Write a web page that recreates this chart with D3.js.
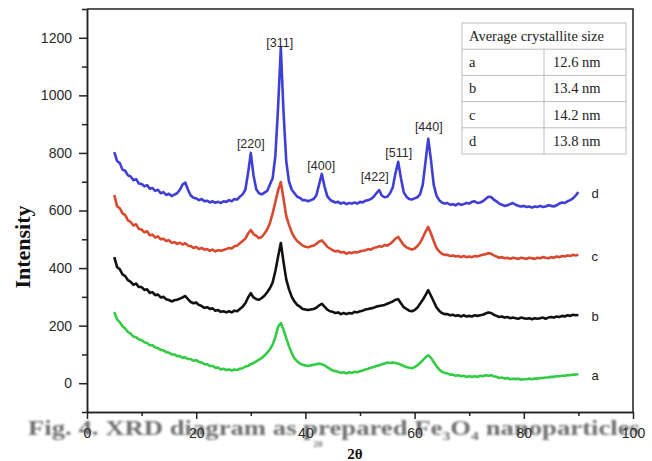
<!DOCTYPE html>
<html>
<head>
<meta charset="utf-8">
<script src="https://cdn.jsdelivr.net/npm/d3@7"></script>
<style>
  body { margin: 0; background: #fff; }
  svg { display: block; }
</style>
</head>
<body>
<svg id="graph1"></svg>
<script>
// 2theta grid: 5 .. 90 deg, 0.5 deg step
var thetaStart = 5, thetaEnd = 90, thetaStep = 0.5;

var seriesNames = ["a", "b", "c", "d"];
var seriesColors = ["#33cc44", "#111111", "#d9492f", "#3f3fd6"];

var intensityA = [247,222,212,198,190,178,172,162,160,152,150,142,140,132,132,124,122,116,114,108,
  106,100,100,94,94,88,90,84,84,78,80,74,72,66,66,60,60,54,54,48,
  50,46,48,44,48,46,50,52,58,60,66,70,76,82,88,96,106,118,134,160,
  196,209,186,156,128,104,86,76,68,64,62,60,62,64,66,68,66,62,56,50,
  44,42,40,36,38,34,38,36,40,38,42,44,48,50,54,56,60,62,66,68,
  72,70,72,70,68,64,60,56,54,52,56,62,70,80,90,97,88,74,60,48,
  40,36,34,30,30,26,28,24,26,22,24,22,24,22,26,24,28,26,28,24,
  22,18,20,16,18,14,16,14,16,12,14,14,16,14,16,16,18,18,20,20,
  22,22,24,24,26,26,28,28,30,30,31];

var intensityB = [438,404,396,378,372,358,352,342,346,334,334,324,326,314,316,306,308,298,300,292,
  289,284,288,290,294,298,303,292,282,278,280,272,268,262,264,258,260,252,254,248,
  250,246,250,246,252,250,258,266,278,298,313,298,292,290,296,304,316,330,350,390,
  440,487,420,360,326,300,284,272,266,258,256,254,256,258,262,270,276,266,256,250,
  248,244,246,240,244,240,244,242,248,246,250,252,256,258,260,262,266,268,270,272,
  276,280,284,290,292,278,264,258,252,250,254,262,276,290,306,323,304,284,264,252,
  244,240,240,236,238,234,236,232,236,232,234,232,236,234,236,238,242,246,244,238,
  234,230,232,228,230,226,228,226,224,228,226,224,226,222,226,224,226,228,224,228,
  230,228,232,230,234,232,236,234,238,236,237];

var intensityC = [654,615,608,590,584,566,560,548,552,536,534,524,528,514,516,506,510,500,502,494,
  497,488,490,484,488,482,486,478,476,470,473,466,470,464,466,460,464,458,462,460,
  463,466,470,468,476,478,486,494,502,520,532,518,512,504,508,520,534,556,590,630,
  670,699,640,580,550,524,506,494,486,478,474,472,476,478,484,492,496,486,474,468,
  462,458,460,454,456,450,454,452,456,454,458,460,462,466,464,470,472,476,474,480,
  478,484,492,502,508,494,480,472,468,464,468,476,488,506,526,543,520,494,470,458,
  450,446,446,442,444,440,442,438,442,438,440,438,442,440,444,446,448,452,450,444,
  440,436,438,434,436,432,436,434,432,436,434,432,436,434,432,436,434,438,436,434,
  438,436,440,438,442,440,444,442,446,444,446];

var intensityD = [803,772,765,742,738,722,718,705,709,694,692,684,688,676,678,668,672,660,664,654,
  658,650,655,660,672,690,697,672,652,644,642,636,640,632,634,628,632,627,630,626,
  632,630,636,632,640,638,648,656,672,730,800,722,674,660,656,662,668,690,712,790,
  960,1165,940,770,700,672,660,648,644,636,636,632,636,640,652,690,727,684,650,638,
  632,628,630,624,628,622,626,624,628,624,630,628,634,636,640,648,660,671,652,646,
  648,660,680,730,769,712,664,648,640,638,642,646,656,690,770,849,775,690,652,636,
  628,624,626,620,622,618,624,620,622,626,624,630,632,626,628,632,640,648,647,638,
  632,624,620,616,618,622,626,620,616,614,616,612,614,610,614,612,616,612,614,618,
  616,614,618,624,628,626,632,636,642,652,664];

var seriesValues = [intensityA, intensityB, intensityC, intensityD];

// Miller indices marked on curve d
var peakHkl = ["[220]", "[311]", "[400]", "[422]", "[511]", "[440]"];
var peakTheta = [30.0, 35.3, 42.9, 52.7, 57.1, 62.6];
var peakLabelIntensity = [816, 1167, 741, 703, 786, 875];

var tableHeader = "Average crystallite size";
var tableSizes = ["12.6 nm", "13.4 nm", "14.2 nm", "13.8 nm"];

var xTicks = [0, 20, 40, 60, 80, 100];
var xMinor = [10, 30, 50, 70, 90];
var yTicks = [0, 200, 400, 600, 800, 1000, 1200];
var yMinor = [-100, 100, 300, 500, 700, 900, 1100, 1300];

var width = 652, height = 461;
var margins = { top: 9, bottom: 49, left: 87, right: 19 };

var svg = d3.select("#graph1")
  .attr("width", width)
  .attr("height", height);

var xScale = d3.scaleLinear()
  .domain([0, 100])
  .range([margins.left, width - margins.right]);

var yScale = d3.scaleLinear()
  .domain([-100, 1300])
  .range([height - margins.bottom, margins.top]);

var thetas = d3.range(thetaStart, thetaEnd + thetaStep / 2, thetaStep);

var defs = svg.append("defs");
defs.append("filter").attr("id", "soft")
  .append("feGaussianBlur").attr("stdDeviation", 0.8);

// figure caption sitting behind the x tick labels
var caption = svg.append("text")
  .attr("x", 28)
  .attr("y", 435)
  .attr("textLength", 612)
  .attr("lengthAdjust", "spacingAndGlyphs")
  .attr("filter", "url(#soft)")
  .style("font-family", "'Liberation Serif', 'Times New Roman', serif")
  .style("font-weight", "bold")
  .style("font-size", "22px")
  .style("fill", "#6e6e6e");
caption.append("tspan").text("Fig. 4. XRD diagram as prepared Fe");
caption.append("tspan").attr("dy", 5).style("font-size", "13px").text("3");
caption.append("tspan").attr("dy", -5).text("O");
caption.append("tspan").attr("dy", 5).style("font-size", "13px").text("4");
caption.append("tspan").attr("dy", -5).text(" nanoparticles");

// frame top/right
svg.append("path")
  .attr("d", "M" + xScale(0) + "," + yScale(1300) + "H" + xScale(100) + "V" + yScale(-100))
  .attr("fill", "none")
  .attr("stroke", "#222")
  .attr("stroke-width", 1.5);

var xAxis = d3.axisBottom(xScale).tickValues(xTicks).tickSize(7).tickPadding(9).tickSizeOuter(0);
var xAxisMinor = d3.axisBottom(xScale).tickValues(xMinor).tickSize(4).tickFormat("").tickSizeOuter(0);
var yAxis = d3.axisLeft(yScale).tickValues(yTicks).tickSize(8).tickPadding(7)
  .tickFormat(d3.format("d")).tickSizeOuter(0);
var yAxisMinor = d3.axisLeft(yScale).tickValues(yMinor).tickSize(5).tickFormat("").tickSizeOuter(0);

var styleAxis = function(g)
{
  g.selectAll("path, line").attr("stroke", "#222").attr("stroke-width", 1.5);
  g.selectAll("text")
    .style("font-family", "'Liberation Sans', Arial, sans-serif")
    .style("font-size", "14px")
    .attr("fill", "#2a2a2a");
};

svg.append("g")
  .attr("transform", "translate(0," + yScale(-100) + ")")
  .call(xAxisMinor).call(styleAxis);
svg.append("g")
  .attr("transform", "translate(0," + yScale(-100) + ")")
  .call(xAxis).call(styleAxis);
svg.append("g")
  .attr("transform", "translate(" + xScale(0) + ",0)")
  .call(yAxisMinor).call(styleAxis);
svg.append("g")
  .attr("transform", "translate(" + xScale(0) + ",0)")
  .call(yAxis).call(styleAxis);

// axis titles
svg.append("text")
  .attr("transform", "translate(30,247) rotate(-90)")
  .attr("text-anchor", "middle")
  .style("font-family", "'Liberation Serif', 'Times New Roman', serif")
  .style("font-weight", "bold")
  .style("font-size", "22px")
  .style("fill", "#111")
  .text("Intensity");

svg.append("text")
  .attr("x", 318).attr("y", 447)
  .attr("text-anchor", "middle")
  .attr("filter", "url(#soft)")
  .style("font-family", "'Liberation Serif', serif")
  .style("font-weight", "bold")
  .style("font-size", "9px")
  .style("fill", "#777")
  .text("2θ");

svg.append("text")
  .attr("x", 355).attr("y", 459)
  .attr("text-anchor", "middle")
  .style("font-family", "'Liberation Serif', 'Times New Roman', serif")
  .style("font-weight", "bold")
  .style("font-size", "15px")
  .style("fill", "#111")
  .text("2θ");

// curves
var drawLine = d3.line()
  .x(function(d, i) { return xScale(thetas[i]); })
  .y(function(d) { return yScale(d); });

svg.selectAll(".curve")
  .data(seriesValues)
  .enter()
  .append("path")
  .attr("class", "curve")
  .attr("d", drawLine)
  .attr("fill", "none")
  .attr("stroke", function(d, i) { return seriesColors[i]; })
  .attr("stroke-width", 2.6)
  .attr("stroke-linejoin", "round");

// series letters at the right end
svg.selectAll(".serlab")
  .data(seriesValues)
  .enter()
  .append("text")
  .attr("class", "serlab")
  .attr("x", xScale(92.4))
  .attr("y", function(d) { return yScale(d[d.length - 1]) + 6; })
  .style("font-family", "'Liberation Sans', Arial, sans-serif")
  .style("font-size", "13px")
  .style("fill", "#222")
  .text(function(d, i) { return seriesNames[i]; });

// peak indices
svg.selectAll(".peak")
  .data(peakHkl)
  .enter()
  .append("text")
  .attr("class", "peak")
  .attr("x", function(d, i) { return xScale(peakTheta[i]); })
  .attr("y", function(d, i) { return yScale(peakLabelIntensity[i]); })
  .attr("text-anchor", "middle")
  .style("font-family", "'Liberation Sans', Arial, sans-serif")
  .style("font-size", "12.5px")
  .style("fill", "#2a2a2a")
  .text(function(d) { return d; });

// crystallite size table
var tbl = { x: 462, y: 23, w: 164, rowH: 26.2, col: 82 };
var tg = svg.append("g");
tg.append("rect")
  .attr("x", tbl.x).attr("y", tbl.y)
  .attr("width", tbl.w).attr("height", tbl.rowH * 5)
  .attr("fill", "#fff")
  .attr("stroke", "#bdbdbd");
tg.selectAll(".hline")
  .data(tableSizes)
  .enter()
  .append("line")
  .attr("x1", tbl.x).attr("x2", tbl.x + tbl.w)
  .attr("y1", function(d, i) { return tbl.y + tbl.rowH * (i + 1); })
  .attr("y2", function(d, i) { return tbl.y + tbl.rowH * (i + 1); })
  .attr("stroke", "#bdbdbd");
tg.append("line")
  .attr("x1", tbl.x + tbl.col).attr("x2", tbl.x + tbl.col)
  .attr("y1", tbl.y + tbl.rowH).attr("y2", tbl.y + tbl.rowH * 5)
  .attr("stroke", "#bdbdbd");

var serif = "'Liberation Serif', 'Times New Roman', serif";
tg.append("text")
  .attr("x", tbl.x + 7).attr("y", tbl.y + 18)
  .style("font-family", serif).style("font-size", "14.5px").style("fill", "#222")
  .text(tableHeader);
tg.selectAll(".tname")
  .data(seriesNames)
  .enter()
  .append("text")
  .attr("x", tbl.x + 7)
  .attr("y", function(d, i) { return tbl.y + tbl.rowH * (i + 1) + 18; })
  .style("font-family", serif).style("font-size", "14.5px").style("fill", "#222")
  .text(function(d) { return d; });
tg.selectAll(".tsize")
  .data(tableSizes)
  .enter()
  .append("text")
  .attr("x", tbl.x + tbl.col + 9)
  .attr("y", function(d, i) { return tbl.y + tbl.rowH * (i + 1) + 18; })
  .style("font-family", serif).style("font-size", "14.5px").style("fill", "#222")
  .text(function(d) { return d; });
</script>
</body>
</html>
